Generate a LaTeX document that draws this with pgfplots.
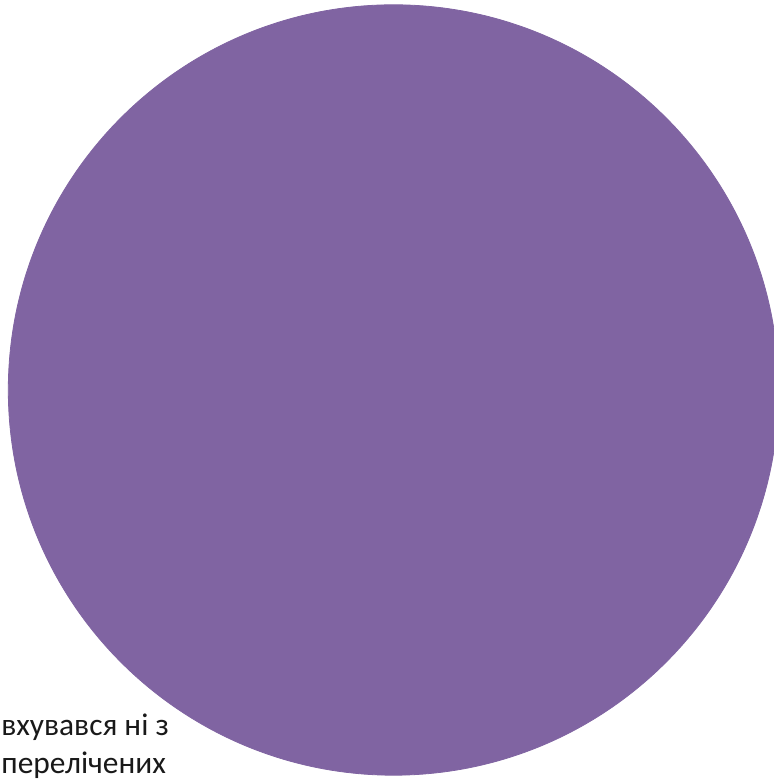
\documentclass[border=0pt]{standalone}
\usepackage{pgfplots}
\pgfplotsset{compat=1.18}
\usepackage{fontspec}
\setmainfont{Carlito}
\definecolor{slice}{HTML}{8064A2}
\begin{document}
\begin{tikzpicture}
\begin{axis}[
  name=ax,
  x=0.5pt, y=0.5pt,
  xmin=0, xmax=773, ymin=0, ymax=780,
  hide axis,
  clip=true,
  scale only axis,
]
% single slice: 100%
\addplot[only marks, mark=*, mark size=192.6pt, color=slice, mark options={draw=none, fill=slice}] coordinates {(393.5,390)};
\node[anchor=base west, inner sep=0pt, font=\fontsize{15.7}{19}\selectfont, text=black!90] at (axis cs:1,44) {вхувався ні з};
\node[anchor=base west, inner sep=0pt, font=\fontsize{15.7}{19}\selectfont, text=black!90] at (axis cs:1,6) {перелічених};
\end{axis}
\pgfresetboundingbox
\path[use as bounding box] (ax.south west) rectangle (ax.north east);
\end{tikzpicture}
\end{document}
